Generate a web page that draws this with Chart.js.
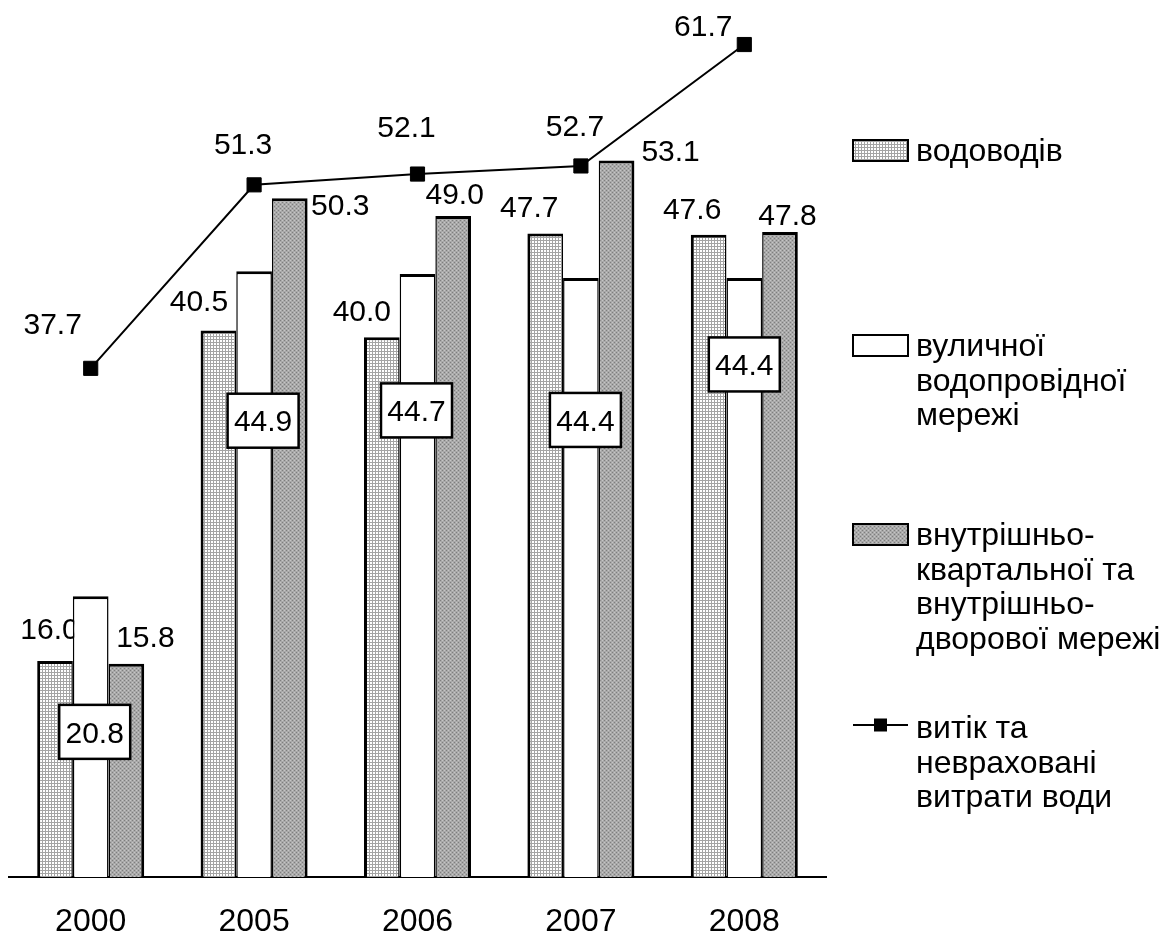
<!DOCTYPE html>
<html>
<head>
<meta charset="utf-8">
<script src="https://cdn.jsdelivr.net/npm/chart.js@4/dist/chart.umd.min.js"></script>
<style>
html,body{margin:0;padding:0;background:#fff}
#wrap{width:1165px;height:936px;position:relative}
</style>
</head>
<body>
<div id="wrap"><canvas id="c" width="1165" height="936"></canvas></div>
<script>
// ---- data ----
const categories = ['2000', '2005', '2006', '2007', '2008'];
const seriesNames = [
  'водоводів',
  'вуличної\nводопровідної\nмережі',
  'внутрішньо-\nквартальної та\nвнутрішньо-\nдворової мережі',
  'витік та\nневраховані\nвитрати води'
];
const vodovodiv   = [16.0, 40.5, 40.0, 47.7, 47.6];
const vulychnoi   = [20.8, 44.9, 44.7, 44.4, 44.4];
const vnutrishnyo = [15.8, 50.3, 49.0, 53.1, 47.8];
const vytik       = [37.7, 51.3, 52.1, 52.7, 61.7];
const yMin = 0, yMax = 65;

// ---- styles ----
const FONT = '"Liberation Sans", Arial, Helvetica, sans-serif';

function makePattern(size, painter) {
  const c = document.createElement('canvas');
  c.width = c.height = size;
  const g = c.getContext('2d');
  painter(g, size);
  return g.createPattern(c, 'repeat');
}
const gridPattern = makePattern(3, (g) => {
  g.fillStyle = '#ffffff'; g.fillRect(0, 0, 3, 3);
  g.fillStyle = '#a4a4a4'; g.fillRect(0, 0, 3, 1); g.fillRect(0, 0, 1, 3);
});
const dotPattern = makePattern(4, (g) => {
  g.fillStyle = '#a9a9a9'; g.fillRect(0, 0, 4, 4);
  g.fillStyle = '#7e7e7e'; g.fillRect(0, 0, 1, 1); g.fillRect(2, 2, 1, 1);
  g.fillStyle = '#c6c6c6'; g.fillRect(2, 0, 1, 1); g.fillRect(0, 2, 1, 1);
});

// label nudges (pixels, relative to the bar top / point), per dataset
const labelNudges = [
  [[-5.5, -33], [-19.5, -30], [-20, -27], [-16, -27], [-16.5, -27]],
  [[4, 135.5], [9, 149.5], [-1, 136.5], [4.5, 142], [0, 86.5]],
  [[19, -28], [50.5, 6], [1.5, -22.5], [54, -10], [7.5, -18]],
  [[-38, -45], [-11, -42], [-11, -48], [-6, -41], [-41, -19]]
];

function drawLabels(chart, which) {
  const ctx = chart.ctx;
  const opts = chart.options.plugins.valueLabels;
  ctx.save();
  ctx.font = opts.size + 'px ' + FONT;
  ctx.textAlign = 'center';
  ctx.textBaseline = 'alphabetic';
  const capHalf = opts.size * 0.716 / 2;
  which.forEach((di) => {
    const meta = chart.getDatasetMeta(di);
    const ds = chart.data.datasets[di];
    meta.data.forEach((el, i) => {
      const n = opts.nudges[di][i];
      const cx = el.x + n[0];
      const cy = el.y + n[1];
      const txt = ds.data[i].toFixed(1);
      if (di === opts.boxed) {
        const w = 71, h = 54;
        ctx.fillStyle = '#fff';
        ctx.fillRect(cx - w / 2, cy - h / 2, w, h);
        ctx.lineWidth = 2.5;
        ctx.strokeStyle = '#000';
        ctx.strokeRect(cx - w / 2, cy - h / 2, w, h);
      }
      ctx.fillStyle = '#000';
      ctx.fillText(txt, cx, cy + capHalf);
    });
  });
  ctx.restore();
}

const labelPlugin = {
  id: 'valueLabels',
  beforeDatasetsDraw(chart) { drawLabels(chart, [0]); },
  afterDatasetsDraw(chart) { drawLabels(chart, [1, 2, 3]); }
};

const legendPlugin = {
  id: 'sideLegend',
  afterDraw(chart) {
    const o = chart.options.plugins.sideLegend;
    const ctx = chart.ctx;
    ctx.save();
    ctx.font = o.size + 'px ' + FONT;
    ctx.textAlign = 'left';
    ctx.textBaseline = 'alphabetic';
    chart.data.datasets.forEach((ds, i) => {
      const base = o.baselines[i];
      const sx = o.swatchX, sw = o.swatchW;
      if (ds.type === 'line') {
        const my = base - 13;
        ctx.strokeStyle = '#000';
        ctx.lineWidth = 2;
        ctx.beginPath();
        ctx.moveTo(sx, my); ctx.lineTo(sx + sw, my);
        ctx.stroke();
        ctx.fillStyle = '#000';
        ctx.fillRect(sx + sw / 2 - 6.5, my - 6.5, 13, 13);
      } else {
        const sh = 21;
        ctx.fillStyle = ds.backgroundColor;
        ctx.fillRect(sx, base - sh, sw, sh);
        ctx.strokeStyle = '#000';
        ctx.lineWidth = 2;
        ctx.strokeRect(sx, base - sh, sw, sh);
      }
      ctx.fillStyle = '#000';
      ds.label.split('\n').forEach((line, k) => {
        ctx.fillText(line, o.textX, base + k * o.lineHeight);
      });
    });
    ctx.restore();
  }
};

new Chart(document.getElementById('c').getContext('2d'), {
  type: 'bar',
  data: {
    labels: categories,
    datasets: [
      { label: seriesNames[0], data: vodovodiv, backgroundColor: gridPattern, borderColor: '#000',
        borderWidth: { top: 3, left: 3, right: 1.5, bottom: 0 }, order: 1 },
      { label: seriesNames[1], data: vulychnoi, backgroundColor: '#ffffff', borderColor: '#000',
        borderWidth: { top: 3, left: 1.5, right: 1.5, bottom: 0 }, order: 1 },
      { label: seriesNames[2], data: vnutrishnyo, backgroundColor: dotPattern, borderColor: '#000',
        borderWidth: { top: 3, left: 1.5, right: 3, bottom: 0 }, order: 1 },
      { type: 'line', label: seriesNames[3], data: vytik, borderColor: '#000', borderWidth: 2,
        pointStyle: 'rect', pointRadius: 10, pointBackgroundColor: '#000', pointBorderColor: '#000',
        pointBorderWidth: 1, tension: 0, fill: false, order: 0, clip: false }
    ]
  },
  options: {
    responsive: false,
    animation: false,
    devicePixelRatio: 1,
    layout: { autoPadding: false, padding: { left: 9, right: 339, top: 0, bottom: 0 } },
    datasets: { bar: { categoryPercentage: 0.655, barPercentage: 1 } },
    scales: {
      x: {
        grid: { display: false, drawTicks: false },
        border: { display: true, color: '#000', width: 2 },
        ticks: { color: '#000', font: { family: FONT, size: 32 }, padding: 26 },
        afterFit(scale) { scale.height = 59; }
      },
      y: { display: false, min: yMin, max: yMax }
    },
    plugins: {
      legend: { display: false },
      tooltip: { enabled: false },
      valueLabels: { size: 30, nudges: labelNudges, boxed: 1 },
      sideLegend: { size: 32, baselines: [161, 356, 545, 738], lineHeight: 34.5, swatchX: 853, swatchW: 55, textX: 916 }
    }
  },
  plugins: [labelPlugin, legendPlugin]
});
</script>
</body>
</html>
